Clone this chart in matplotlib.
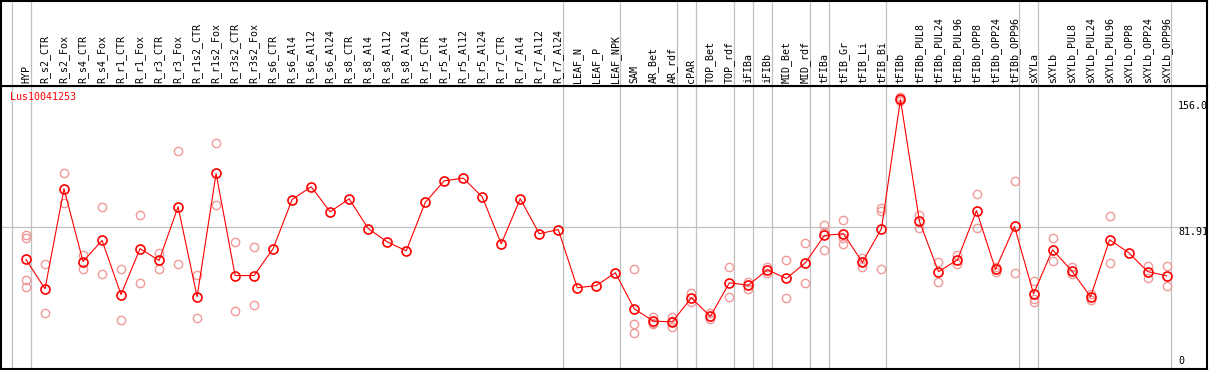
import matplotlib
matplotlib.use("Agg")
import matplotlib.pyplot as plt

# 样本名
samples = ["HYP", "R_s2_CTR", "R_s2_Fox", "R_s4_CTR", "R_s4_Fox", "R_r1_CTR", "R_r1_Fox",
           "R_r3_CTR", "R_r3_Fox", "R_r1s2_CTR", "R_r1s2_Fox", "R_r3s2_CTR", "R_r3s2_Fox",
           "R_s6_CTR", "R_s6_Al4", "R_s6_Al12", "R_s6_Al24", "R_s8_CTR", "R_s8_Al4",
           "R_s8_Al12", "R_s8_Al24", "R_r5_CTR", "R_r5_Al4", "R_r5_Al12", "R_r5_Al24",
           "R_r7_CTR", "R_r7_Al4", "R_r7_Al12", "R_r7_Al24", "LEAF_N", "LEAF_P", "LEAF_NPK",
           "SAM", "AR_Bet", "AR_rdf", "cPAR", "TOP_Bet", "TOP_rdf", "iFIBa", "iFIBb",
           "MID_Bet", "MID_rdf", "tFIBa", "tFIB_Gr", "tFIB_Li", "tFIB_Bi", "tFIBb",
           "tFIBb_PUL8", "tFIBb_PUL24", "tFIBb_PUL96", "tFIBb_OPP8", "tFIBb_OPP24",
           "tFIBb_OPP96", "sXYLa", "sXYLb", "sXYLb_PUL8", "sXYLb_PUL24", "sXYLb_PUL96",
           "sXYLb_OPP8", "sXYLb_OPP24", "sXYLb_OPP96"]

# 平均值
means = [63.4, 46.4, 104.3, 62.2, 74.4, 43.1, 69.7, 62.8, 93.9, 41.8, 113.2, 54.1, 54.1,
         69.7, 98.1, 105.5, 91.0, 98.5, 81.3, 73.6, 68.4, 96.4, 108.9, 110.5, 99.6,
         72.5, 98.5, 78.3, 80.7, 47.0, 48.3, 55.7,
         34.8, 27.7, 27.3, 41.2, 30.4, 49.9, 48.5, 57.4, 52.4, 61.5, 77.3, 78.3, 61.8,
         81.3, 156.0, 85.4, 56.3, 63.2, 91.7, 57.6, 82.5, 43.5, 69.0, 57.0, 41.8, 74.8,
         67.4, 56.4, 53.9]

# 重复样本的值
replicates = [[77.3, 75.7, 51.6, 47.4], [60.9, 32.7], [113.2, 95.8], [66.1, 58.0],
              [93.9, 55.1], [58.0, 28.5], [89.2, 49.9], [66.9, 58.0], [126.1, 60.9],
              [54.5, 29.6], [130.9, 95.0], [73.6, 33.7], [70.9, 37.2],
              [], [], [], [], [], [], [], [], [], [], [], [], [], [], [], [], [], [], [],
              [57.6, 25.8, 21.0], [30.0, 26.3, 26.8], [30.0, 24.2, 27.5], [43.9, 38.5],
              [32.3, 28.7], [58.8, 41.8], [50.5, 46.4], [58.8, 55.7], [63.2, 41.2],
              [73.0, 49.9], [83.6, 79.2, 69.0], [86.0, 75.7, 72.5], [64.4, 58.8, 62.0],
              [93.3, 91.7, 57.6], [157.5, 155.0, 155.5], [88.9, 81.7], [62.2, 50.5],
              [65.9, 60.7], [101.4, 81.7], [58.9, 56.0], [108.9, 55.7],
              [51.2, 40.8, 38.7], [76.1, 62.6], [58.9, 54.7], [43.5, 40.2], [88.3, 61.1],
              [], [59.5, 52.8], [59.9, 48.3]]

# 分组边界(在这些样本之后)
group_ends = [-1, 0, 28, 31, 34, 35, 37, 38, 39, 41, 42, 45, 52, 53, 60]

gene = "Lus10041253"
ref_value = 81.91
max_value = 156.0

W, H = 1209, 370
fig = plt.figure(figsize=(W / 100, H / 100), dpi=100)

# 像素坐标 -> 数据坐标
x0, dx = 26.0, 19.01
xlim = ((1 - x0) / dx, (1207 - x0) / dx)
grid_c = "#c0c0c0"
mono = "DejaVu Sans Mono"

ax = fig.add_axes([1 / W, 1 / H, 1206 / W, 283 / H])
top = fig.add_axes([1 / W, 284 / H, 1206 / W, 85 / H])

for a in (ax, top):
    a.set_xlim(*xlim)
    a.set_xticks([])
    a.set_yticks([])
    for s in a.spines.values():
        s.set_color("black")
        s.set_linewidth(1.5)
    for g in group_ends:
        a.axvline(g + 0.25, color=grid_c, linewidth=0.9, zorder=0)

ax.set_ylim(0, max_value * 1.05)
ax.axhline(ref_value, color=grid_c, linewidth=0.9, zorder=0)

top.set_ylim(0, 1)
for i, name in enumerate(samples):
    top.text(i, 0.03, name, rotation=90, ha="center", va="bottom",
             fontsize=7.2, family=mono)

# 重复点
for i, reps in enumerate(replicates):
    if reps:
        ax.plot([i] * len(reps), reps, linestyle="none", marker="o", markersize=6,
                markerfacecolor="none", markeredgecolor="#f09a9a", markeredgewidth=1.0,
                zorder=2)

# 平均值折线
xs = list(range(len(samples)))
ax.plot(xs, means, color="red", linewidth=0.8, marker="o", markersize=6.5,
        markerfacecolor="none", markeredgecolor="red", markeredgewidth=1.2, zorder=3)

# 右侧刻度标签
lab_x = (1178 - x0) / dx
ax.annotate("156.0", xy=(lab_x, max_value), xytext=(0, -5), textcoords="offset points",
            ha="left", va="center", fontsize=7.2, family=mono, annotation_clip=False)
ax.annotate("81.91", xy=(lab_x, ref_value), xytext=(0, -2.9), textcoords="offset points",
            ha="left", va="center", fontsize=7.2, family=mono)
ax.annotate("0", xy=(lab_x, 0), xytext=(0, 5.4), textcoords="offset points",
            ha="left", va="center", fontsize=7.2, family=mono)

fig.text(10 / W, 1 - 97 / H, gene, color="red", ha="left", va="center",
         fontsize=7.2, family=mono)

fig.savefig("out.png", dpi=100)
